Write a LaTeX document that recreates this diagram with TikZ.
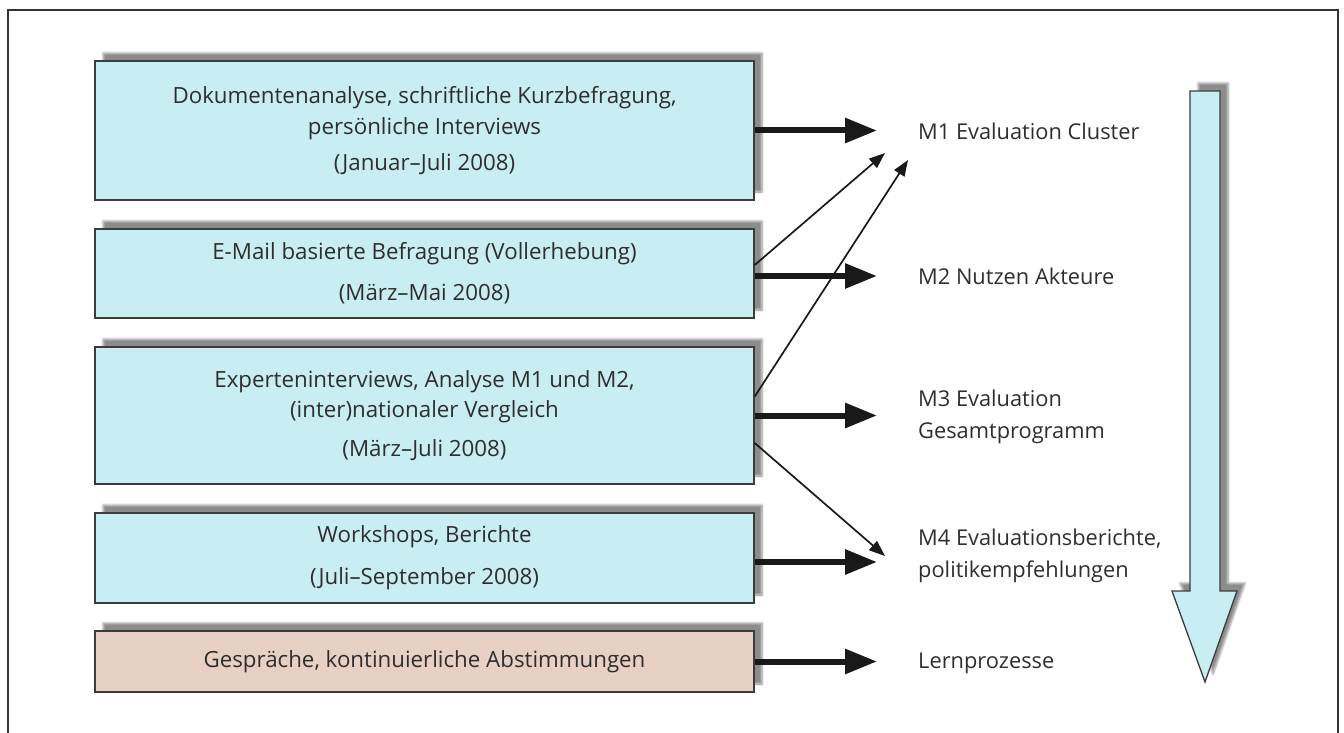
\documentclass[tikz,border=0pt]{standalone}
\usepackage{fontspec}
\setmainfont{Open Sans}
\usetikzlibrary{arrows.meta,shadows.blur}
\definecolor{boxcyan}{HTML}{C8EEF3}
\definecolor{boxpink}{HTML}{E9D0C4}
\definecolor{edge}{HTML}{3C3C3C}
\definecolor{txt}{HTML}{2E2E2E}
\tikzset{
  stagebox/.style={draw=edge, line width=1.4pt, fill=boxcyan, align=center, text=txt,
    font=\fontsize{22.3}{30}\selectfont, inner sep=0pt,
    blur shadow={shadow xshift=8pt, shadow yshift=8pt, shadow blur steps=6, shadow opacity=45}},
  outlabel/.style={anchor=west, align=left, text=txt, inner sep=0pt, font=\fontsize{21.8}{32}\selectfont},
  thick arrow/.style={line width=6pt, draw=black!90, -{Triangle[length=32pt,width=24pt]}},
  thin arrow/.style={line width=1.7pt, draw=black!90, -{Triangle[length=16pt,width=12pt]}},
}
\begin{document}
\begin{tikzpicture}[x=1pt,y=-1pt]
\useasboundingbox (0,0) rectangle (1344,733);
% frame
\draw[line width=2pt, draw=black!80] (8,733) -- (8,10) -- (1338,10) -- (1338,733);

% boxes
\node[stagebox, minimum width=659, minimum height=139] (b1) at (424.5,130.5)
  {Dokumentenanalyse, schriftliche Kurzbefragung,\\[1pt] persönliche Interviews\\[6pt] (Januar–Juli 2008)};
\node[stagebox, minimum width=659, minimum height=89] (b2) at (424.5,273.5)
  {E-Mail basierte Befragung (Vollerhebung)\\[11pt] (März–Mai 2008)};
\node[stagebox, minimum width=659, minimum height=137] (b3) at (424.5,415.5)
  {Experteninterviews, Analyse M1 und M2,\\ (inter)nationaler Vergleich\\[9pt] (März–Juli 2008)};
\node[stagebox, minimum width=659, minimum height=90] (b4) at (424.5,558)
  {Workshops, Berichte\\[12pt] (Juli–September 2008)};
\node[stagebox, fill=boxpink, minimum width=659, minimum height=61] (b5) at (424.5,661.5)
  {Gespräche, kontinuierliche Abstimmungen};

% labels
\node[outlabel] (m1) at (918,131) {M1 Evaluation Cluster};
\node[outlabel] (m2) at (918,276) {M2 Nutzen Akteure};
\node[outlabel] (m3) at (918,417) {M3 Evaluation\\Gesamtprogramm};
\node[outlabel] (m4) at (918,556) {M4 Evaluationsberichte,\\politikempfehlungen};
\node[outlabel] (m5) at (918,663) {Lernprozesse};

% arrow ends
\coordinate (tx) at (877,0);
\coordinate (t1) at (885,153);
\coordinate (t2) at (908,160);
\coordinate (t3) at (885,556);

% thick arrows
\draw[thick arrow] (b1.east) -- (b1.east -| tx);
\draw[thick arrow] ([yshift=-2.5pt]b2.east) -- ([yshift=-2.5pt]b2.east -| tx);
\draw[thick arrow] (b3.east) -- (b3.east -| tx);
\draw[thick arrow] ([yshift=-4pt]b4.east) -- ([yshift=-4pt]b4.east -| tx);
\draw[thick arrow] (b5.east) -- (b5.east -| tx);

% thin arrows
\draw[thin arrow] ([yshift=8.5pt]b2.east) -- (t1);
\draw[thin arrow] ([yshift=19pt]b3.east) -- (t2);
\draw[thin arrow] ([yshift=-27.5pt]b3.east) -- (t3);

% big downward arrow
\path[fill=boxcyan, draw=edge, line width=1.3pt, line join=miter,
  blur shadow={shadow xshift=8pt, shadow yshift=8pt, shadow blur steps=6, shadow opacity=45}]
  (1190,91) -- (1220,91) -- (1220,591) -- (1237,591) -- (1205,682) -- (1172,591) -- (1190,591) -- cycle;
\end{tikzpicture}
\end{document}
